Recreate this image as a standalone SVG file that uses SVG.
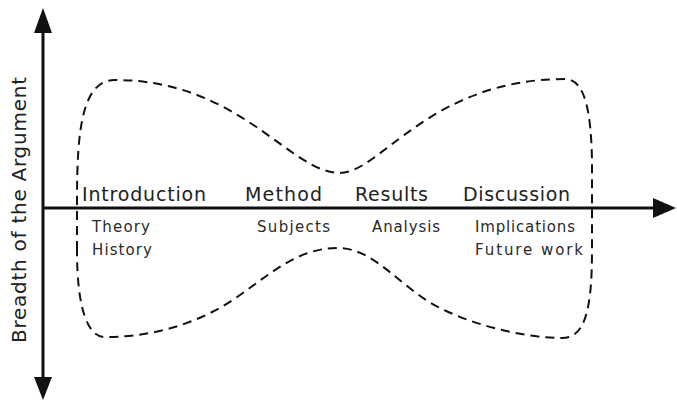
<svg xmlns="http://www.w3.org/2000/svg" width="677" height="402" viewBox="0 0 677 402">
  <style>
    .axis { stroke: #111; stroke-width: 3; fill: none; }
    .head { fill: #111; stroke: none; }
    .outline { stroke: #111; stroke-width: 2; fill: none; stroke-dasharray: 9 6; }
    .section { font-family: "DejaVu Sans", Verdana, sans-serif; font-size: 19px; fill: #222; }
    .topic { font-family: "DejaVu Sans", Verdana, sans-serif; font-size: 15px; fill: #2a2a2a; }
    .ylabel { font-family: "DejaVu Sans", Verdana, sans-serif; font-size: 20px; fill: #222; }
  </style>
  <rect width="677" height="402" fill="#fff"/>

  <!-- axes -->
  <g id="connectors">
    <line class="axis" x1="43" y1="30" x2="43" y2="380"/>
    <polygon class="head" points="43,8 34,33 52,33"/>
    <polygon class="head" points="43,400 34,377 52,377"/>
    <line class="axis" x1="43" y1="208" x2="656" y2="208"/>
    <polygon class="head" points="676,208 653,198 653,218"/>
  </g>

  <!-- hourglass outline of the argument -->
  <g id="hourglass">
    <path class="outline" d="M 77 250 L 77 200 C 77 130, 82 80, 115 80
      C 240 80, 290 173, 340 173
      C 380 173, 430 79, 565 79
      C 586 79, 591 115, 592 160
      L 592 250
      C 592 310, 585 338, 562 338
      C 530 338, 480 328, 440 308
      C 400 288, 375 248, 338 248
      C 300 248, 275 270, 240 295
      C 205 320, 160 337, 105 337
      C 88 337, 77 310, 77 250 Z"/>
  </g>

  <g id="y-label">
    <text class="ylabel" x="26" y="343" transform="rotate(-90 26 343)" textLength="266" lengthAdjust="spacing">Breadth of the Argument</text>
  </g>

  <g id="introduction">
    <text class="section" x="82" y="201" textLength="124" lengthAdjust="spacing">Introduction</text>
    <text class="topic" x="92" y="232" textLength="58" lengthAdjust="spacing">Theory</text>
    <text class="topic" x="92" y="255" textLength="60" lengthAdjust="spacing">History</text>
  </g>

  <g id="method">
    <text class="section" x="245" y="201" textLength="77" lengthAdjust="spacing">Method</text>
    <text class="topic" x="257" y="232" textLength="73" lengthAdjust="spacing">Subjects</text>
  </g>

  <g id="results">
    <text class="section" x="355" y="201" textLength="73" lengthAdjust="spacing">Results</text>
    <text class="topic" x="372" y="232" textLength="68" lengthAdjust="spacing">Analysis</text>
  </g>

  <g id="discussion">
    <text class="section" x="463" y="201" textLength="107" lengthAdjust="spacing">Discussion</text>
    <text class="topic" x="475" y="232" textLength="100" lengthAdjust="spacing">Implications</text>
    <text class="topic" x="475" y="255" textLength="108" lengthAdjust="spacing">Future work</text>
  </g>
</svg>
